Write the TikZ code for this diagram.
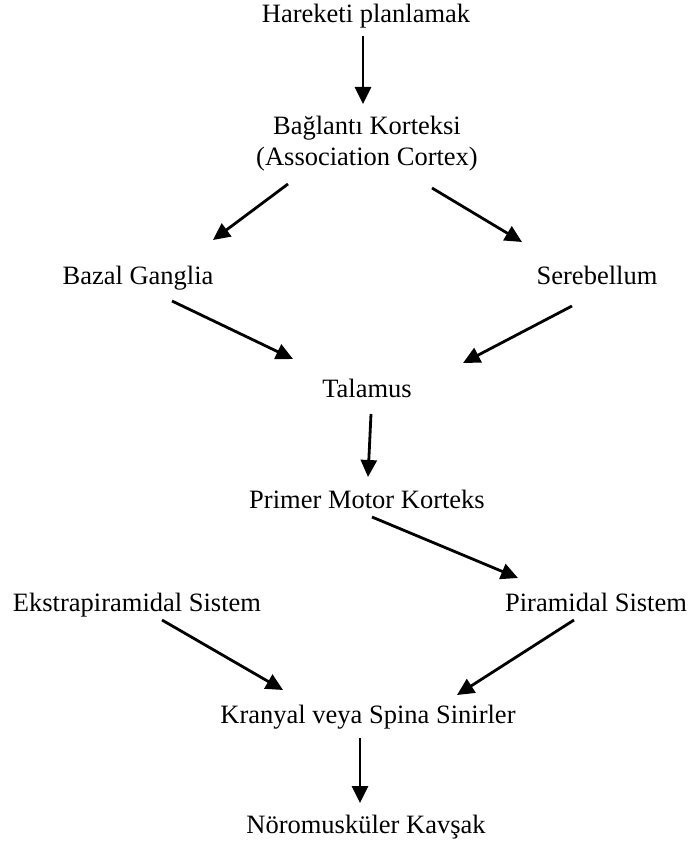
\documentclass[tikz,border=0pt]{standalone}
\usepackage{fontspec}
\setmainfont{Liberation Serif}
\usetikzlibrary{arrows.meta}
\tikzstyle{flowchart}=[x=0.5pt, y=-0.5pt, font=\fontsize{13.25}{15.5}\selectfont]
\tikzstyle{step node}=[inner sep=0pt, anchor=base, align=center]
\tikzstyle{flow}=[line width=1.4pt, -{Triangle[length=8.5pt,width=8pt]}]

\begin{document}
\begin{tikzpicture}[flowchart]
            \useasboundingbox (0,0) rectangle (689,845);

            \node[step node] (hp) at (366,23)  {Hareketi planlamak};
            \node[step node] (bk) at (367,166) {Bağlantı Korteksi\\(Association Cortex)};
            \node[step node] (bg) at (138,285) {Bazal Ganglia};
            \node[step node] (sb) at (597,285) {Serebellum};
            \node[step node] (tl) at (367,397) {Talamus};
            \node[step node] (pm) at (367,508) {Primer Motor Korteks};
            \node[step node] (ek) at (137,611) {Ekstrapiramidal Sistem};
            \node[step node] (ps) at (596,611) {Piramidal Sistem};
            \node[step node] (kr) at (368,723) {Kranyal veya Spina Sinirler};
            \node[step node] (nm) at (366,833) {Nöromusküler Kavşak};

            \path[flow]
              ([shift={(-3,13)}]hp.base)  edge ([shift={(-4,-62)}]bk.base)
              ([shift={(-79,18)}]bk.base) edge ([shift={(75,-45)}]bg.base)
              ([shift={(65,22)}]bk.base)  edge ([shift={(-75,-43)}]sb.base)
              ([shift={(34,16)}]bg.base)  edge ([shift={(-74,-38)}]tl.base)
              ([shift={(-25,21)}]sb.base) edge ([shift={(96,-34)}]tl.base)
              ([shift={(4,17)}]tl.base)   edge ([shift={(1,-31)}]pm.base)
              ([shift={(5,9)}]pm.base)    edge ([shift={(-78,-33)}]ps.base)
              ([shift={(25,9)}]ek.base)   edge ([shift={(-85,-33)}]kr.base)
              ([shift={(-22,9)}]ps.base)  edge ([shift={(89,-28)}]kr.base)
              ([shift={(-8,15)}]kr.base)  edge ([shift={(-6,-30)}]nm.base);
          \end{tikzpicture}
\end{document}
